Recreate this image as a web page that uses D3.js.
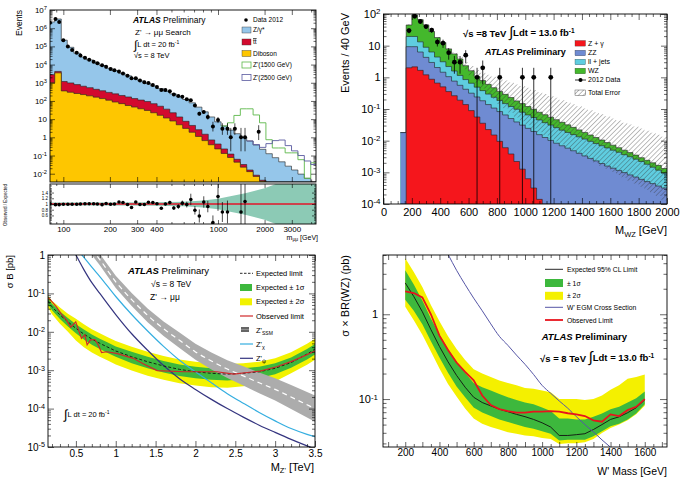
<!DOCTYPE html>
<html>
<head>
<meta charset="utf-8">
<script src="https://cdn.jsdelivr.net/npm/d3@7/dist/d3.min.js"></script>
<style>html,body{margin:0;padding:0;background:#fff;overflow:hidden}svg{display:block}</style>
</head>
<body>
<div id="chart"></div>
<script>
// ===================== DATA =====================
// --- Top-left: Z' -> mumu invariant mass (stacked levels, events per bin) ---
const tlBinEdges = [80, 88, 97, 106, 117, 129, 141, 156, 171, 188, 207, 228, 251, 276, 303, 334, 367, 404, 444, 488, 537, 591, 650, 715, 787, 865, 952, 1047, 1152, 1267, 1394, 1533, 1686, 1855, 2040, 2244, 2469, 2716, 2987, 3286, 3615, 3976, 4500];
const tlDibosonTop = [1000, 3500, 355, 300, 257, 224, 191, 162, 135, 110, 87, 71, 56, 46, 37, 30, 22.4, 16.2, 11.5, 7.9, 4.9, 3.1, 1.9, 1.12, 0.66, 0.39, 0.23, 0.13, 0.078, 0.043, 0.023, 0.013, 0.0071, 0.0038, 0.002, 0.001, 0.0005, 0.0003, 0.0002, 0.0001, 0.0001, 0.0001];
const tlTtbarTop = [2800, 4200, 1175, 980, 794, 646, 537, 437, 363, 295, 245, 200, 166, 135, 112, 93, 70.8, 51.3, 35.5, 22.4, 13.2, 7.6, 4.5, 2.63, 1.48, 0.72, 0.43, 0.23, 0.12, 0.062, 0.032, 0.016, 0.0083, 0.0044, 0.0022, 0.0011, 0.0005, 0.0003, 0.0002, 0.0001, 0.0001, 0.0001];
const tlZgammaTop = [2.2e6, 3.2e6, 2.2e5, 8.9e4, 4.2e4, 2.6e4, 1.8e4, 1.26e4, 8900, 6300, 4570, 3310, 2400, 1740, 1260, 912, 661, 479, 347, 245, 174, 120, 79, 45.7, 25.1, 13.2, 7.1, 4.2, 2.5, 1.58, 1.0, 0.63, 0.38, 0.22, 0.126, 0.076, 0.045, 0.026, 0.016, 0.0095, 0.0056, 0.0032];
const tlZp1500FirstBin = 27;
const tlZp1500Top = [4.2, 6.3, 16, 37, 37, 17, 6.3, 0.74, 0.26, 0.26, 0.14, 0.14, 0.059, 0.0056, 0.04];
const tlZp2500FirstBin = 31;
const tlZp2500Top = [0.63, 0.40, 0.28, 0.45, 0.66, 0.71, 0.35, 0.18, 0.1, 0.05, 0.032];
const tlDataMass = [82, 89, 94, 100, 107, 114, 122, 129, 138, 147, 157, 166, 178, 189, 202, 214, 229, 243, 260, 276, 294, 313, 334, 355, 379, 403, 430, 457, 488, 518, 554, 588, 628, 667, 709, 757, 809, 859, 927, 1000, 1067, 1151, 1209, 1285, 1408, 1495, 1832];
const tlDataCount = [2.0e6, 3.2e6, 2.2e6, 2.2e5, 1.0e5, 6.3e4, 4.5e4, 3.2e4, 2.4e4, 1.86e4, 1.45e4, 1.17e4, 9300, 7600, 5750, 4800, 4100, 3250, 2450, 1780, 1780, 1320, 1070, 955, 760, 590, 405, 400, 340, 224, 190, 170, 123, 110, 56, 20, 25, 13, 4, 9, 3, 3, 1, 3, 1, 1, 2];
const tlDataErrLow = [1414, 1789, 1483, 469, 316, 251, 212, 179, 155, 136, 120, 108, 96, 87, 76, 69, 64, 57, 49, 42, 42, 36, 33, 31, 28, 24, 20, 20, 18, 15, 14, 13, 11, 10.5, 7.5, 4.4, 5, 3.6, 1.91, 2.94, 1.63, 1.63, 0.83, 1.63, 0.83, 0.83, 1.29];
const tlDataErrHigh = [1414, 1789, 1483, 469, 316, 251, 212, 179, 155, 136, 120, 108, 96, 87, 76, 69, 64, 57, 49, 42, 42, 36, 33, 31, 28, 24, 20, 20, 18, 15, 14, 13, 11, 10.5, 7.5, 5.5, 6, 4.7, 3.16, 4.11, 2.92, 2.92, 2.3, 2.92, 2.3, 2.3, 2.64];
const tlRatioMass = [82, 89, 94, 100, 107, 114, 122, 129, 138, 147, 157, 166, 178, 189, 202, 214, 229, 243, 260, 276, 294, 313, 334, 355, 379, 403, 430, 457, 488, 518, 554, 588, 628, 667, 709, 757, 809, 859, 927, 1000, 1067, 1151, 1408, 1495];
const tlRatio = [1.01, 0.977, 0.977, 0.99, 0.99, 0.99, 0.99, 1.0, 1.01, 1.01, 1.01, 1.0, 0.977, 1.02, 0.99, 1.0, 1.07, 1.05, 0.98, 0.88, 1.07, 0.98, 0.98, 1.06, 1.05, 1.01, 0.85, 1.0, 1.05, 0.86, 0.91, 1.03, 0.98, 1.16, 0.78, 0.58, 1.07, 0.91, 0.35, 1.26, 0.72, 0.72, 0.72, 1.09];
const tlRatioErr = [0.005, 0.005, 0.005, 0.005, 0.005, 0.005, 0.005, 0.005, 0.005, 0.005, 0.005, 0.005, 0.005, 0.005, 0.005, 0.005, 0.01, 0.01, 0.015, 0.02, 0.02, 0.025, 0.03, 0.03, 0.035, 0.04, 0.05, 0.05, 0.06, 0.07, 0.08, 0.09, 0.1, 0.2, 0.15, 0.23, 0.2, 0.2, 0.25, 0.5, 0.35, 0.4, 1.0, 1.0];
const tlRatioBandMass = [82, 200, 400, 600, 800, 1000, 1200, 1500, 2000, 2500, 3000, 4300];
const tlRatioBandHalf = [0.05, 0.05, 0.06, 0.08, 0.12, 0.18, 0.27, 0.38, 0.55, 0.75, 0.95, 1.5];
const tlXMajor = [100, 200, 300, 400, 1000, 2000, 3000];
const tlXMinor = [90, 500, 600, 700, 800, 900, 4000];
const tlRatioYMajor = [0.6, 0.8, 1.0, 1.2, 1.4];

// --- Top-right: WZ invariant mass (stacked levels, events / 40 GeV) ---
const trBinEdges = [120, 160, 200, 240, 280, 320, 360, 400, 440, 480, 520, 560, 600, 640, 680, 720, 760, 800, 840, 880, 920, 960, 1000, 1040, 1080, 1120, 1160, 1200, 1240, 1280, 1320, 1360, 1400, 1440, 1480, 1520, 1560, 1600, 1640, 1680, 1720, 1760, 1800, 1840, 1880, 1920, 1960, 2000];
const trZgammaTop = [0, 2.0, 2.14, 1.66, 1.2, 0.87, 0.66, 0.50, 0.355, 0.263, 0.19, 0.138, 0.089, 0.056, 0.0355, 0.0224, 0.0151, 0.0095, 0.006, 0.0038, 0.0022, 0.00126, 0.00063, 0.00032, 0.00014, 0, 0, 0, 0, 0, 0, 0, 0, 0, 0, 0, 0, 0, 0, 0, 0, 0, 0, 0, 0, 0, 0];
const trZZTop = [0.018, 9.3, 9.3, 6.3, 4.27, 2.95, 2.04, 1.45, 1.05, 0.76, 0.56, 0.42, 0.316, 0.24, 0.182, 0.138, 0.107, 0.083, 0.065, 0.05, 0.039, 0.031, 0.0245, 0.0195, 0.0155, 0.0126, 0.0102, 0.0083, 0.0069, 0.0058, 0.0048, 0.004, 0.0033, 0.00275, 0.0023, 0.0019, 0.00158, 0.00135, 0.00115, 0.00098, 0.00083, 0.00071, 0.0006, 0.00051, 0.00044, 0.00037, 0.00032];
const trLljetsTop = [0.018, 19.5, 19.5, 13.2, 8.9, 6.3, 4.37, 3.1, 2.19, 1.58, 1.15, 0.85, 0.65, 0.49, 0.38, 0.295, 0.234, 0.186, 0.148, 0.12, 0.098, 0.079, 0.065, 0.054, 0.045, 0.037, 0.031, 0.0257, 0.0214, 0.0182, 0.0155, 0.0132, 0.0112, 0.0095, 0.0081, 0.0069, 0.0059, 0.005, 0.0043, 0.0036, 0.0031, 0.0026, 0.0022, 0.0018, 0.00145, 0.00117, 0.00095];
const trWZTop = [0.018, 45, 93, 66, 45, 28, 18, 12.6, 7.9, 5.5, 3.8, 2.34, 1.62, 1.07, 0.79, 0.6, 0.47, 0.36, 0.29, 0.23, 0.18, 0.148, 0.12, 0.098, 0.079, 0.066, 0.055, 0.046, 0.038, 0.0316, 0.0263, 0.0219, 0.0182, 0.0151, 0.0126, 0.0105, 0.0087, 0.0072, 0.006, 0.005, 0.0042, 0.0035, 0.0029, 0.0024, 0.002, 0.00166, 0.00132];
const trTotalErrRel = [0.05, 0.05, 0.05, 0.05, 0.05, 0.05, 0.05, 0.05, 0.05, 0.12, 0.2, 0.29, 0.41, 0.58, 0.78, 1.0, 1.24, 1.51, 1.75, 2.0, 2.31, 2.63, 2.89, 3.07, 3.27, 3.47, 3.68, 3.9, 4.0, 4.25, 4.37, 4.62, 4.75, 5.03, 5.31, 5.46, 5.76, 5.92, 6.24, 6.41, 6.76, 6.94, 7.32, 7.51, 7.91, 8.33, 9.0];
const trDataMass = [180, 220, 260, 300, 340, 380, 420, 460, 500, 540, 580, 660, 700, 820, 980, 1060, 1180];
const trDataCount = [30, 85, 58, 40, 31, 13, 12, 6, 3, 3, 5, 1, 2, 1, 1, 1, 1];
const trDataErr = [5.5, 9.2, 7.6, 6.3, 5.6, 3.6, 3.5, 2.4, 1.7, 1.7, 2.2, 1, 1.4, 1, 1, 1, 1];

// --- Bottom-left: Z' -> mumu limits (pb) ---
const blMass = [0.15, 0.2, 0.3, 0.4, 0.5, 0.6, 0.7, 0.8, 0.9, 1.0, 1.2, 1.4, 1.6, 1.8, 2.0, 2.2, 2.4, 2.6, 2.8, 3.0, 3.2, 3.4, 3.5];
const blExpected = [0.063, 0.0447, 0.0275, 0.0182, 0.0123, 0.0087, 0.00646, 0.00501, 0.00398, 0.00316, 0.00224, 0.00166, 0.00129, 0.00105, 0.00091, 0.00083, 0.00079, 0.00083, 0.00091, 0.00112, 0.00158, 0.00263, 0.00355];
const bl1sHigh = [0.074, 0.0537, 0.0339, 0.0229, 0.0158, 0.0115, 0.0085, 0.0066, 0.00525, 0.00417, 0.00302, 0.00224, 0.00174, 0.00141, 0.00123, 0.00112, 0.00107, 0.00112, 0.00123, 0.00151, 0.00214, 0.00355, 0.00479];
const bl1sLow = [0.0525, 0.0363, 0.0214, 0.0138, 0.0091, 0.0063, 0.00457, 0.00355, 0.00282, 0.00224, 0.00151, 0.00112, 0.00087, 0.00071, 0.00062, 0.00056, 0.00054, 0.00058, 0.00063, 0.00078, 0.00115, 0.0019, 0.00257];
const bl2sHigh = [0.087, 0.0646, 0.0427, 0.0295, 0.0219, 0.0158, 0.0117, 0.0091, 0.00724, 0.00575, 0.00407, 0.00302, 0.00234, 0.0019, 0.00166, 0.00151, 0.00145, 0.00151, 0.00166, 0.00204, 0.00295, 0.0049, 0.0066];
const bl2sLow = [0.0427, 0.0288, 0.0162, 0.01, 0.0059, 0.00398, 0.00288, 0.00224, 0.00178, 0.00141, 0.00098, 0.00072, 0.00056, 0.00046, 0.0004, 0.00036, 0.00035, 0.00038, 0.00042, 0.00051, 0.00083, 0.00138, 0.00186];
const blObsMass = [0.15, 0.173, 0.255, 0.318, 0.38, 0.435, 0.498, 0.57, 0.612, 0.641, 0.683, 0.738, 0.78, 0.822, 0.885, 1.01, 1.22, 1.35, 1.52, 1.85, 2.27, 2.48, 2.65, 2.81, 3.02, 3.23, 3.5];
const blObserved = [0.076, 0.071, 0.0447, 0.0288, 0.0204, 0.0132, 0.0182, 0.00676, 0.0083, 0.00457, 0.00617, 0.0063, 0.00457, 0.00288, 0.00302, 0.00275, 0.00204, 0.00145, 0.00098, 0.00091, 0.00091, 0.00079, 0.00087, 0.00095, 0.00123, 0.00178, 0.00316];
const blSsmMass = [0.7, 0.8, 1.0, 1.2, 1.4, 1.6, 1.8, 2.0, 2.2, 2.4, 2.6, 2.8, 3.0, 3.2, 3.4, 3.5];
const blSsmHigh = [2.0, 1.07, 0.288, 0.102, 0.0407, 0.0186, 0.00955, 0.0049, 0.00288, 0.00182, 0.00126, 0.00087, 0.00062, 0.00041, 0.00027, 0.00022];
const blSsmCentral = [1.41, 0.76, 0.2, 0.069, 0.0269, 0.012, 0.006, 0.003, 0.00174, 0.00107, 0.00071, 0.00047, 0.000316, 0.0002, 0.000126, 0.0001];
const blSsmLow = [1.0, 0.54, 0.138, 0.0468, 0.0178, 0.00776, 0.0038, 0.00186, 0.00105, 0.00063, 0.0004, 0.00025, 0.000162, 0.0000977, 0.0000589, 0.0000457];
const blChiMass = [0.55, 0.6, 0.7, 0.8, 1.0, 1.2, 1.4, 1.6, 1.8, 2.0, 2.2, 2.4, 2.6, 2.8, 3.0, 3.2, 3.4, 3.5];
const blChi = [1.15, 0.87, 0.48, 0.275, 0.083, 0.0282, 0.0105, 0.00417, 0.00182, 0.00091, 0.00047, 0.000245, 0.000138, 0.0000794, 0.0000479, 0.0000302, 0.0000214, 0.0000186];
const blPsiMass = [0.45, 0.5, 0.6, 0.7, 0.8, 1.0, 1.2, 1.4, 1.6, 1.8, 2.0, 2.2, 2.4, 2.6, 2.8, 3.0, 3.2, 3.4, 3.5];
const blPsi = [1.5, 1.0, 0.417, 0.19, 0.1, 0.0282, 0.0089, 0.0033, 0.00132, 0.0006, 0.000316, 0.000174, 0.0001, 0.00006, 0.000037, 0.000024, 0.0000158, 0.0000107, 0.0000089];
const blXMajor = [0.5, 1, 1.5, 2, 2.5, 3, 3.5];

// --- Bottom-right: W' -> WZ limits (pb) ---
const brMass = [200, 250, 300, 350, 400, 450, 500, 550, 600, 650, 700, 750, 800, 850, 900, 950, 1000, 1050, 1100, 1150, 1200, 1250, 1300, 1350, 1400, 1450, 1500, 1550, 1600];
const brExpected = [2.34, 1.62, 1.07, 0.66, 0.417, 0.275, 0.19, 0.138, 0.105, 0.091, 0.083, 0.076, 0.071, 0.066, 0.062, 0.0575, 0.0525, 0.0468, 0.0372, 0.0372, 0.038, 0.039, 0.0437, 0.05, 0.0575, 0.0617, 0.069, 0.079, 0.098];
const br1sHigh = [3.31, 2.24, 1.45, 0.89, 0.575, 0.389, 0.275, 0.204, 0.155, 0.138, 0.126, 0.115, 0.105, 0.0977, 0.0912, 0.0871, 0.0794, 0.0724, 0.0589, 0.0589, 0.0575, 0.0575, 0.0617, 0.0676, 0.0759, 0.0813, 0.0912, 0.102, 0.123];
const br1sLow = [1.48, 1.10, 0.76, 0.48, 0.309, 0.204, 0.141, 0.105, 0.0794, 0.0692, 0.063, 0.0575, 0.0537, 0.0501, 0.0468, 0.0447, 0.0417, 0.0389, 0.0324, 0.0331, 0.0331, 0.0331, 0.0363, 0.0417, 0.0479, 0.0513, 0.0575, 0.0676, 0.087];
const br2sHigh = [4.57, 3.16, 2.09, 1.29, 0.83, 0.55, 0.389, 0.288, 0.224, 0.20, 0.182, 0.166, 0.155, 0.145, 0.135, 0.132, 0.126, 0.12, 0.10, 0.10, 0.10, 0.0977, 0.10, 0.11, 0.129, 0.145, 0.174, 0.182, 0.195];
const br2sLow = [1.23, 0.85, 0.575, 0.363, 0.229, 0.151, 0.107, 0.0776, 0.0589, 0.0513, 0.0468, 0.0437, 0.0407, 0.0389, 0.0372, 0.0363, 0.0347, 0.0339, 0.0295, 0.0302, 0.0302, 0.0309, 0.0339, 0.0398, 0.0457, 0.0501, 0.0562, 0.0661, 0.0832];
const brObserved = [1.86, 1.78, 1.58, 1.0, 0.56, 0.38, 0.27, 0.209, 0.166, 0.11, 0.085, 0.076, 0.072, 0.069, 0.069, 0.071, 0.071, 0.072, 0.071, 0.068, 0.066, 0.063, 0.056, 0.054, 0.066, 0.063, 0.074, 0.081, 0.1];
const brWprimeMass = [400, 450, 500, 550, 600, 650, 700, 750, 800, 850, 900, 950, 1000, 1050, 1100, 1150, 1200, 1250, 1300, 1350, 1400];
const brWprimeXsec = [7.9, 5.1, 3.3, 2.24, 1.55, 1.1, 0.77, 0.55, 0.43, 0.33, 0.257, 0.195, 0.145, 0.117, 0.095, 0.078, 0.062, 0.05, 0.041, 0.033, 0.027];
const brXLabels = [200, 400, 600, 800, 1000, 1200, 1400, 1600];

// ===================== HELPERS =====================
const FONT = "'Liberation Sans', Arimo, Arial, Helvetica, sans-serif";
const svg = d3.select('#chart').append('svg').attr('width', 689).attr('height', 478)
  .attr('font-family', FONT);
svg.append('rect').attr('width', 689).attr('height', 478).attr('fill', '#fff');
const defs = svg.append('defs');
const pat = defs.append('pattern').attr('id', 'hatch').attr('patternUnits', 'userSpaceOnUse')
  .attr('width', 3.4).attr('height', 3.4).attr('patternTransform', 'rotate(45)');
pat.append('line').attr('x1', 0).attr('y1', 0).attr('x2', 0).attr('y2', 3.4)
  .attr('stroke', '#333').attr('stroke-width', 0.65);

function logTicks(lo, hi) {
  const major = [], minor = [];
  const e0 = Math.floor(Math.log10(lo)), e1 = Math.ceil(Math.log10(hi));
  for (let e = e0; e <= e1; e++) for (let k = 1; k < 10; k++) {
    const v = +(k * Math.pow(10, e)).toPrecision(6);
    if (v < lo * 0.9999 || v > hi * 1.0001) continue;
    (k === 1 ? major : minor).push(v);
  }
  return {major, minor};
}
function linTicks(lo, hi, step, excl) {
  const out = [];
  const n0 = Math.ceil(lo / step - 1e-6), n1 = Math.floor(hi / step + 1e-6);
  for (let n = n0; n <= n1; n++) {
    const v = +(n * step).toFixed(6);
    if (excl && Math.abs(v / excl - Math.round(v / excl)) < 1e-6) continue;
    out.push(v);
  }
  return out;
}
function makePanel(name, left, right, top, bottom) {
  defs.append('clipPath').attr('id', 'clip-' + name).append('rect')
    .attr('x', left).attr('y', top).attr('width', right - left).attr('height', bottom - top);
  const g = svg.append('g');
  const plot = g.append('g').attr('clip-path', `url(#clip-${name})`);
  return {g, plot, left, right, top, bottom};
}
function axis(g, scale, orient, pos, values, len, fmt, fontSize, pad) {
  const gen = ({bottom: d3.axisBottom, top: d3.axisTop, left: d3.axisLeft, right: d3.axisRight})[orient](scale)
    .tickValues(values).tickSizeInner(-len).tickSizeOuter(0).tickPadding(pad == null ? 3 : pad)
    .tickFormat(fmt || (() => ''));
  const a = g.append('g')
    .attr('transform', (orient === 'bottom' || orient === 'top') ? `translate(0,${pos})` : `translate(${pos},0)`)
    .call(gen);
  a.select('.domain').remove();
  a.selectAll('.tick line').attr('stroke', '#000').attr('stroke-width', 0.6);
  a.selectAll('.tick text').attr('font-family', FONT).attr('font-size', fontSize || 8).attr('fill', '#000');
  return a;
}
function supLog(a) {
  a.selectAll('.tick text').each(function (d) {
    const e = Math.round(Math.log10(d));
    const t = d3.select(this).text(null);
    if (e === 0) t.text('1');
    else if (e === 1) t.text('10');
    else {
      t.append('tspan').text('10');
      t.append('tspan').attr('dy', '-0.45em').attr('font-size', '72%').text(e);
    }
  });
}
function frame(p) {
  p.g.append('rect').attr('x', p.left).attr('y', p.top).attr('width', p.right - p.left)
    .attr('height', p.bottom - p.top).attr('fill', 'none').attr('stroke', '#000').attr('stroke-width', 0.9);
}
function rich(g, x, y, parts, size, anchor) {
  const t = g.append('text').attr('x', x).attr('y', y).attr('font-size', size)
    .attr('text-anchor', anchor || 'start').attr('fill', '#000');
  parts.forEach(p => {
    const s = t.append('tspan').text(p.t);
    if (p.b) s.attr('font-weight', 'bold');
    if (p.i) s.attr('font-style', 'italic');
    if (p.fs) s.attr('font-size', p.fs);
    if (p.dy) s.attr('dy', p.dy);
    if (p.ol) s.attr('text-decoration', 'overline');
  });
  return t;
}
function vtext(g, x, y, parts, size) {
  const t = rich(g, 0, 0, parts, size, 'end');
  t.attr('transform', `translate(${x},${y}) rotate(-90)`);
  return t;
}
const posv = v => Math.max(v, 1e-12);
function stepPts(edges, vals, first) {
  const f = first || 0;
  const pts = vals.map((v, i) => [edges[f + i], v]);
  pts.push([edges[f + vals.length], vals[vals.length - 1]]);
  return pts;
}

// ===================== TOP-LEFT =====================
const tlM = makePanel('tlm', 50, 316, 10, 182);
const tlX = d3.scaleLog().domain([82, 4300]).range([50, 316]);
const tlY = d3.scaleLog().domain([0.0035, 1e7]).range([182, 10]).clamp(true);
{
  const base = tlY.range()[0];
  const layers = [[tlZgammaTop, '#95c6ea'], [tlTtbarTop, '#d20a2e'], [tlDibosonTop, '#fec600']];
  layers.forEach(([lv, col]) => {
    const pts = stepPts(tlBinEdges, lv);
    tlM.plot.append('path').attr('d', d3.area().curve(d3.curveStepAfter).x(d => tlX(d[0])).y0(base).y1(d => tlY(posv(d[1])))(pts)).attr('fill', col);
    tlM.plot.append('path').attr('d', d3.line().curve(d3.curveStepAfter).x(d => tlX(d[0])).y(d => tlY(posv(d[1])))(pts))
      .attr('fill', 'none').attr('stroke', '#222').attr('stroke-width', 0.6);
  });
  const sig = [[tlZp1500Top, tlZp1500FirstBin, '#5cb84a'], [tlZp2500Top, tlZp2500FirstBin, '#5a5aa0']];
  sig.forEach(([vals, f, col]) => {
    const pts = stepPts(tlBinEdges, vals, f);
    tlM.plot.append('path').attr('d', d3.line().curve(d3.curveStepAfter).x(d => tlX(d[0])).y(d => tlY(posv(d[1])))(pts))
      .attr('fill', 'none').attr('stroke', col).attr('stroke-width', 0.9);
  });
  tlDataMass.forEach((m, i) => {
    const c = tlDataCount[i];
    tlM.plot.append('line').attr('x1', tlX(m)).attr('x2', tlX(m))
      .attr('y1', tlY(posv(c - tlDataErrLow[i]))).attr('y2', tlY(c + tlDataErrHigh[i]))
      .attr('stroke', '#000').attr('stroke-width', 0.7);
    tlM.plot.append('circle').attr('cx', tlX(m)).attr('cy', tlY(c)).attr('r', 2).attr('fill', '#000');
  });
  const yt = logTicks(0.01, 1e7);
  axis(tlM.g, tlX, 'bottom', 182, tlXMajor, 5);
  axis(tlM.g, tlX, 'bottom', 182, tlXMinor, 2.5);
  axis(tlM.g, tlX, 'top', 10, tlXMajor, 5);
  axis(tlM.g, tlX, 'top', 10, tlXMinor, 2.5);
  supLog(axis(tlM.g, tlY, 'left', 50, yt.major, 5, d => 'x', 8, 3));
  axis(tlM.g, tlY, 'left', 50, yt.minor, 2.5);
  axis(tlM.g, tlY, 'right', 316, yt.major, 5);
  axis(tlM.g, tlY, 'right', 316, yt.minor, 2.5);
  frame(tlM);
}
// ratio panel
const tlR = makePanel('tlr', 50, 316, 184, 224);
const tlRY = d3.scaleLinear().domain([0.3, 1.7]).range([224, 184]);
{
  const band = tlRatioBandMass.map((m, i) => [m, tlRatioBandHalf[i]]);
  tlR.plot.append('path').attr('d', d3.area().x(d => tlX(d[0])).y0(d => tlRY(1 - d[1])).y1(d => tlRY(1 + d[1]))(band))
    .attr('fill', '#8ccab5');
  tlR.plot.append('line').attr('x1', tlX(tlX.domain()[0])).attr('x2', tlX(tlX.domain()[1]))
    .attr('y1', tlRY(1)).attr('y2', tlRY(1)).attr('stroke', '#e3142a').attr('stroke-width', 1.3);
  tlRatioMass.forEach((m, i) => {
    tlR.plot.append('line').attr('x1', tlX(m)).attr('x2', tlX(m))
      .attr('y1', tlRY(tlRatio[i] - tlRatioErr[i])).attr('y2', tlRY(tlRatio[i] + tlRatioErr[i]))
      .attr('stroke', '#000').attr('stroke-width', 0.7);
    tlR.plot.append('circle').attr('cx', tlX(m)).attr('cy', tlRY(tlRatio[i])).attr('r', 1.8).attr('fill', '#000');
  });
  axis(tlR.g, tlX, 'bottom', 224, tlXMajor, 4, d => String(d), 8, 2);
  axis(tlR.g, tlX, 'bottom', 224, tlXMinor, 2);
  axis(tlR.g, tlX, 'top', 184, tlXMajor, 4);
  axis(tlR.g, tlX, 'top', 184, tlXMinor, 2);
  const rMinor = linTicks(0.35, 1.65, 0.05, 0.2);
  axis(tlR.g, tlRY, 'left', 50, tlRatioYMajor, 4, d => (d === 1 ? '1' : d.toFixed(1)), 4.5, 2);
  axis(tlR.g, tlRY, 'left', 50, rMinor, 2);
  axis(tlR.g, tlRY, 'right', 316, tlRatioYMajor, 4);
  axis(tlR.g, tlRY, 'right', 316, rMinor, 2);
  frame(tlR);
}
// TL text and legend
{
  const g = svg.append('g');
  rich(g, 133, 23, [{t: 'ATLAS', b: 1, i: 1}, {t: ' Preliminary'}], 8.5);
  rich(g, 135, 35, [{t: 'Z\' → μμ Search'}], 8);
  rich(g, 134, 49, [{t: '∫', fs: 12}, {t: 'L dt = 20 fb', fs: 7.5, dy: -2}, {t: '-1', fs: 5, dy: -3}], 7.5);
  rich(g, 134, 58, [{t: '√s = 8 TeV'}], 7.5);
  vtext(g, 21.5, 10, [{t: 'Events'}], 8.5);
  vtext(g, 7, 184, [{t: 'Observed / Expected'}], 4.5);
  rich(g, 318, 239.5, [{t: 'm'}, {t: 'μμ', fs: 5, dy: 1.5}, {t: ' [GeV]', dy: -1.5}], 7, 'end');
  g.append('circle').attr('cx', 246).attr('cy', 20).attr('r', 1.8).attr('fill', '#000');
  rich(g, 253, 22.3, [{t: 'Data 2012'}], 6.5);
  const leg = [['#95c6ea', null, [{t: 'Z/γ*'}], 30], ['#d20a2e', null, [{t: 'tt', ol: 1}], 42], ['#fec600', null, [{t: 'Diboson'}], 53.5],
    ['#fff', '#5cb84a', [{t: 'Z\'(1500 GeV)'}], 65], ['#fff', '#5a5aa0', [{t: 'Z\'(2500 GeV)'}], 77.5]];
  leg.forEach(([fill, stroke, parts, yc]) => {
    g.append('rect').attr('x', 242).attr('y', yc - 3).attr('width', 9).attr('height', 6).attr('fill', fill)
      .attr('stroke', stroke || '#333').attr('stroke-width', stroke ? 0.8 : 0.4);
    rich(g, 253, yc + 2.3, parts, 6.5);
  });
}

// ===================== TOP-RIGHT =====================
const trP = makePanel('tr', 383.5, 667, 14, 204);
const trX = d3.scaleLinear().domain([0, 2000]).range([383.5, 667]);
const trY = d3.scaleLog().domain([1e-4, 100]).range([204, 14]).clamp(true);
{
  const base = trY.range()[0];
  const layers = [[trWZTop, '#44b82c'], [trLljetsTop, '#5fcde0'], [trZZTop, '#6f8bd2'], [trZgammaTop, '#f5161c']];
  layers.forEach(([lv, col]) => {
    const pts = stepPts(trBinEdges, lv);
    trP.plot.append('path').attr('d', d3.area().curve(d3.curveStepAfter).x(d => trX(d[0])).y0(base).y1(d => trY(posv(d[1])))(pts)).attr('fill', col);
    trP.plot.append('path').attr('d', d3.line().curve(d3.curveStepAfter).x(d => trX(d[0])).y(d => trY(posv(d[1])))(pts))
      .attr('fill', 'none').attr('stroke', '#222').attr('stroke-width', 0.6);
  });
  const errPts = stepPts(trBinEdges, trWZTop.map((v, i) => [v, trTotalErrRel[i]]));
  trP.plot.append('path').attr('d', d3.area().curve(d3.curveStepAfter).x(d => trX(d[0]))
      .y0(d => trY(posv(d[1][0] / (1 + d[1][1])))).y1(d => trY(posv(d[1][0] * (1 + d[1][1]))))(errPts.slice(1)))
    .attr('fill', 'url(#hatch)');
  trDataMass.forEach((m, i) => {
    const c = trDataCount[i];
    trP.plot.append('line').attr('x1', trX(m)).attr('x2', trX(m))
      .attr('y1', trY(posv(c - trDataErr[i]))).attr('y2', trY(c + trDataErr[i]))
      .attr('stroke', '#000').attr('stroke-width', 0.8);
    trP.plot.append('circle').attr('cx', trX(m)).attr('cy', trY(c)).attr('r', 2.4).attr('fill', '#000');
  });
  const yt = logTicks(1e-4, 100);
  const xMaj = linTicks(0, 2000, 200), xMin = linTicks(0, 2000, 50, 200);
  axis(trP.g, trX, 'bottom', 204, xMaj, 6, d => String(d), 11, 4);
  axis(trP.g, trX, 'bottom', 204, xMin, 3);
  axis(trP.g, trX, 'top', 14, xMaj, 6);
  axis(trP.g, trX, 'top', 14, xMin, 3);
  supLog(axis(trP.g, trY, 'left', 383.5, yt.major, 6, d => 'x', 11, 3));
  axis(trP.g, trY, 'left', 383.5, yt.minor, 3);
  axis(trP.g, trY, 'right', 667, yt.major, 6);
  axis(trP.g, trY, 'right', 667, yt.minor, 3);
  frame(trP);

  const g = svg.append('g');
  rich(g, 463, 37, [{t: '√s =8 TeV ', b: 1}, {t: '∫', fs: 15, i: 1}, {t: 'Ldt = 13.0 fb', b: 1, dy: -1}, {t: '-1', fs: 6.5, b: 1, dy: -3.5}], 9.5);
  rich(g, 485, 54.5, [{t: 'ATLAS', b: 1, i: 1}, {t: ' Preliminary', b: 1}], 9);
  vtext(g, 349, 13, [{t: 'Events / 40 GeV'}], 11);
  rich(g, 667, 234, [{t: 'M'}, {t: 'WZ', fs: 7.5, dy: 2.5}, {t: ' [GeV]', dy: -2.5}], 11, 'end');
  const leg = [['#f5161c', 'Z + γ', 43.3], ['#6f8bd2', 'ZZ', 53], ['#5fcde0', 'll + jets', 62], ['#44b82c', 'WZ', 71]];
  leg.forEach(([col, txt, yc]) => {
    g.append('rect').attr('x', 575).attr('y', yc - 2.8).attr('width', 10.5).attr('height', 5.6).attr('fill', col)
      .attr('stroke', '#333').attr('stroke-width', 0.3);
    rich(g, 588, yc + 2.4, [{t: txt}], 7);
  });
  g.append('line').attr('x1', 575).attr('x2', 586).attr('y1', 80).attr('y2', 80).attr('stroke', '#000').attr('stroke-width', 0.8);
  g.append('circle').attr('cx', 580.5).attr('cy', 80).attr('r', 2).attr('fill', '#000');
  rich(g, 588, 82.4, [{t: '2012 Data'}], 7);
  g.append('rect').attr('x', 575).attr('y', 90).attr('width', 10.5).attr('height', 5.6).attr('fill', 'url(#hatch)')
    .attr('stroke', '#333').attr('stroke-width', 0.4);
  rich(g, 588, 95.2, [{t: 'Total Error'}], 7);
}

// ===================== BOTTOM-LEFT =====================
const blP = makePanel('bl', 48, 315, 255, 447);
const blX = d3.scaleLinear().domain([0.15, 3.5]).range([48, 315]);
const blY = d3.scaleLog().domain([1e-5, 1]).range([447, 255]);
{
  const bandArea = d3.area().x(d => blX(d[0])).y0(d => blY(d[1])).y1(d => blY(d[2]));
  blP.plot.append('path').attr('d', bandArea(blMass.map((m, i) => [m, bl2sLow[i], bl2sHigh[i]]))).attr('fill', '#f2f200');
  blP.plot.append('path').attr('d', bandArea(blMass.map((m, i) => [m, bl1sLow[i], bl1sHigh[i]]))).attr('fill', '#3db83d');
  blP.plot.append('path').attr('d', bandArea(blSsmMass.map((m, i) => [m, blSsmLow[i], blSsmHigh[i]]))).attr('fill', '#acacac');
  const smooth = d3.line().curve(d3.curveMonotoneX).x(d => blX(d[0])).y(d => blY(d[1]));
  blP.plot.append('path').attr('d', smooth(blSsmMass.map((m, i) => [m, blSsmCentral[i]])))
    .attr('fill', 'none').attr('stroke', '#fff').attr('stroke-width', 1.2).attr('stroke-dasharray', '5,4');
  blP.plot.append('path').attr('d', smooth(blChiMass.map((m, i) => [m, blChi[i]])))
    .attr('fill', 'none').attr('stroke', '#35aee0').attr('stroke-width', 1.2);
  blP.plot.append('path').attr('d', smooth(blPsiMass.map((m, i) => [m, blPsi[i]])))
    .attr('fill', 'none').attr('stroke', '#34347f').attr('stroke-width', 1.2);
  const lin = d3.line().x(d => blX(d[0])).y(d => blY(d[1]));
  blP.plot.append('path').attr('d', lin(blMass.map((m, i) => [m, blExpected[i]])))
    .attr('fill', 'none').attr('stroke', '#111').attr('stroke-width', 0.9).attr('stroke-dasharray', '3,2');
  blP.plot.append('path').attr('d', lin(blObsMass.map((m, i) => [m, blObserved[i]])))
    .attr('fill', 'none').attr('stroke', '#d0282a').attr('stroke-width', 1.2);
  const yt = logTicks(1e-5, 1);
  const xMin = linTicks(0.2, 3.5, 0.1, 0.5);
  axis(blP.g, blX, 'bottom', 447, blXMajor, 6, d => String(d), 10, 3);
  axis(blP.g, blX, 'bottom', 447, xMin, 3);
  axis(blP.g, blX, 'top', 255, blXMajor, 6);
  axis(blP.g, blX, 'top', 255, xMin, 3);
  supLog(axis(blP.g, blY, 'left', 48, yt.major, 6, d => 'x', 10, 3));
  axis(blP.g, blY, 'left', 48, yt.minor, 3);
  axis(blP.g, blY, 'right', 315, yt.major, 6);
  axis(blP.g, blY, 'right', 315, yt.minor, 3);
  frame(blP);

  const g = svg.append('g');
  rich(g, 128, 273.5, [{t: 'ATLAS', b: 1, i: 1}, {t: ' Preliminary'}], 9.5);
  rich(g, 151, 286.5, [{t: '√s = 8 TeV'}], 8.5);
  rich(g, 150, 300, [{t: 'Z\' → μμ'}], 8.5);
  rich(g, 64, 419, [{t: '∫', fs: 13}, {t: 'L dt = 20 fb', fs: 7.5, dy: -2}, {t: '-1', fs: 5, dy: -3}], 7.5);
  vtext(g, 12.5, 255, [{t: 'σ B [pb]'}], 9.5);
  rich(g, 314, 470.5, [{t: 'M'}, {t: 'Z\'', fs: 7.5, dy: 2.5}, {t: ' [TeV]', dy: -2.5}], 11, 'end');
  // legend
  const lx0 = 240, lx1 = 253, tx = 256;
  g.append('line').attr('x1', lx0).attr('x2', lx1).attr('y1', 273.3).attr('y2', 273.3).attr('stroke', '#111').attr('stroke-width', 0.9).attr('stroke-dasharray', '2.5,1.5');
  rich(g, tx, 276, [{t: 'Expected limit'}], 7.5);
  g.append('rect').attr('x', lx0).attr('y', 284).attr('width', 12).attr('height', 7).attr('fill', '#3db83d');
  rich(g, tx, 290, [{t: 'Expected ± 1σ'}], 7.5);
  g.append('rect').attr('x', lx0).attr('y', 298.3).attr('width', 12).attr('height', 7).attr('fill', '#f2f200');
  rich(g, tx, 304.4, [{t: 'Expected ± 2σ'}], 7.5);
  g.append('line').attr('x1', lx0).attr('x2', lx1).attr('y1', 316).attr('y2', 316).attr('stroke', '#d0282a').attr('stroke-width', 1.2);
  rich(g, tx, 318.7, [{t: 'Observed limit'}], 7.5);
  g.append('rect').attr('x', lx0 + 1).attr('y', 327).attr('width', 8).attr('height', 5).attr('fill', '#666');
  g.append('line').attr('x1', lx0 + 1).attr('x2', lx0 + 9).attr('y1', 329.5).attr('y2', 329.5).attr('stroke', '#999').attr('stroke-width', 0.8);
  rich(g, tx, 332.5, [{t: 'Z\''}, {t: 'SSM', fs: 5, dy: 2}], 7.5);
  g.append('line').attr('x1', lx0).attr('x2', lx1).attr('y1', 344).attr('y2', 344).attr('stroke', '#35aee0').attr('stroke-width', 1.2);
  rich(g, tx, 346.5, [{t: 'Z\''}, {t: 'χ', fs: 5.5, dy: 2}], 7.5);
  g.append('line').attr('x1', lx0).attr('x2', lx1).attr('y1', 358.3).attr('y2', 358.3).attr('stroke', '#34347f').attr('stroke-width', 1.2);
  rich(g, tx, 360.8, [{t: 'Z\''}, {t: 'ψ', fs: 5.5, dy: 2}], 7.5);
}

// ===================== BOTTOM-RIGHT =====================
const brP = makePanel('br', 383, 667, 255, 447);
const brX = d3.scaleLinear().domain([70, 1730]).range([383, 667]);
const brY = d3.scaleLog().domain([0.0272, 5]).range([447, 255]);
{
  const bandArea = d3.area().x(d => brX(d[0])).y0(d => brY(d[1])).y1(d => brY(d[2]));
  brP.plot.append('path').attr('d', bandArea(brMass.map((m, i) => [m, br2sLow[i], br2sHigh[i]]))).attr('fill', '#f4f000');
  brP.plot.append('path').attr('d', bandArea(brMass.map((m, i) => [m, br1sLow[i], br1sHigh[i]]))).attr('fill', '#3db83d');
  const lin = d3.line().x(d => brX(d[0])).y(d => brY(d[1]));
  brP.plot.append('path').attr('d', lin(brMass.map((m, i) => [m, brExpected[i]])))
    .attr('fill', 'none').attr('stroke', '#111').attr('stroke-width', 0.9);
  brP.plot.append('path').attr('d', d3.line().curve(d3.curveMonotoneX).x(d => brX(d[0])).y(d => brY(d[1]))(brWprimeMass.map((m, i) => [m, brWprimeXsec[i]])))
    .attr('fill', 'none').attr('stroke', '#5656a6').attr('stroke-width', 1);
  brP.plot.append('path').attr('d', lin(brMass.map((m, i) => [m, brObserved[i]])))
    .attr('fill', 'none').attr('stroke', '#e8141c').attr('stroke-width', 1.8);
  const yt = logTicks(0.0272, 5);
  const xMaj = linTicks(100, 1700, 100), xMin = linTicks(100, 1700, 50, 100);
  axis(brP.g, brX, 'bottom', 447, xMaj, 5, d => (brXLabels.includes(d) ? String(d) : ''), 10, 2);
  axis(brP.g, brX, 'bottom', 447, xMin, 3);
  axis(brP.g, brX, 'top', 255, xMaj, 5);
  axis(brP.g, brX, 'top', 255, xMin, 3);
  supLog(axis(brP.g, brY, 'left', 383, yt.major, 7, d => 'x', 11, 5));
  axis(brP.g, brY, 'left', 383, yt.minor, 3.5);
  axis(brP.g, brY, 'right', 667, yt.major, 7);
  axis(brP.g, brY, 'right', 667, yt.minor, 3.5);
  frame(brP);

  const g = svg.append('g');
  const lx0 = 545, lx1 = 563, tx = 567;
  g.append('line').attr('x1', lx0).attr('x2', lx1).attr('y1', 269.3).attr('y2', 269.3).attr('stroke', '#111').attr('stroke-width', 0.9);
  rich(g, tx, 271.8, [{t: 'Expected 95% CL Limit'}], 6.8);
  g.append('rect').attr('x', lx0).attr('y', 279).attr('width', 18).attr('height', 8).attr('fill', '#3db83d');
  rich(g, tx, 285.5, [{t: '± 1σ'}], 6.8);
  g.append('rect').attr('x', lx0).attr('y', 291.8).attr('width', 18).attr('height', 8).attr('fill', '#f4f000');
  rich(g, tx, 298.2, [{t: '± 2σ'}], 6.8);
  g.append('line').attr('x1', lx0).attr('x2', lx1).attr('y1', 307.3).attr('y2', 307.3).attr('stroke', '#5656a6').attr('stroke-width', 1);
  rich(g, tx, 309.8, [{t: 'W\' EGM Cross Section'}], 6.8);
  g.append('line').attr('x1', lx0).attr('x2', lx1).attr('y1', 320).attr('y2', 320).attr('stroke', '#e8141c').attr('stroke-width', 1.8);
  rich(g, tx, 322.5, [{t: 'Observed Limit'}], 6.8);
  rich(g, 541.7, 340, [{t: 'ATLAS', b: 1, i: 1}, {t: ' Preliminary', b: 1}], 9.5);
  rich(g, 540, 362, [{t: '√s = 8 TeV ', b: 1}, {t: '∫', fs: 15, i: 1}, {t: 'Ldt = 13.0 fb', b: 1, dy: -1}, {t: '-1', fs: 6.5, b: 1, dy: -3.5}], 9.5);
  vtext(g, 349, 255, [{t: 'σ × BR(WZ) (pb)'}], 11);
  rich(g, 667, 475, [{t: 'W\' Mass [GeV]'}], 10.5, 'end');
}
</script>
</body>
</html>
